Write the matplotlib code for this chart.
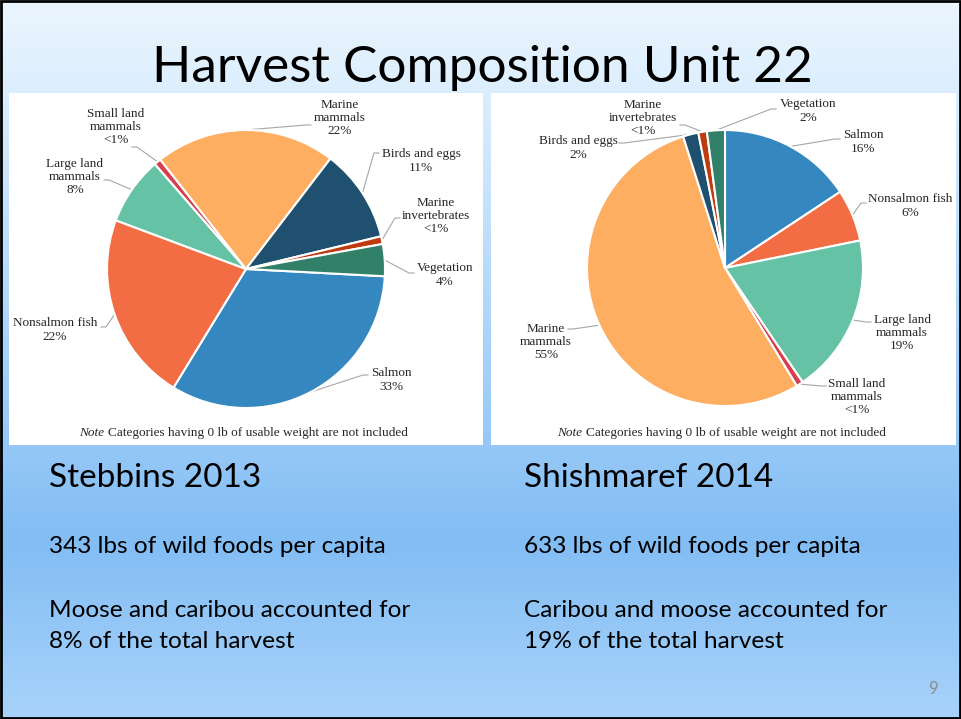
import numpy as np
import matplotlib
matplotlib.use("Agg")
import matplotlib.pyplot as plt
from matplotlib.colors import to_rgb
from matplotlib.patches import Rectangle

W, H = 961, 719

# data
categories = ["Salmon", "Nonsalmon fish", "Large land\nmammals", "Small land\nmammals",
              "Marine\nmammals", "Birds and eggs", "Marine\ninvertebrates", "Vegetation"]
colors = ["#3587BF", "#F26D44", "#66C2A5", "#D53F4E",
          "#FDAE61", "#20506F", "#BE3B10", "#338068"]

stebbins_share = [32.8, 21.9, 7.9, 0.8, 20.9, 10.8, 0.9, 3.7]
stebbins_pct = ["33%", "22%", "8%", "<1%", "22%", "11%", "<1%", "4%"]

shishmaref_share = [15.7, 6.1, 18.7, 0.8, 53.8, 1.8, 1.0, 2.1]
shishmaref_pct = ["16%", "6%", "19%", "<1%", "55%", "2%", "<1%", "2%"]

title = "Harvest Composition Unit 22"
note_rest = "Categories having 0 lb of usable weight are not included"

left_text = ["Stebbins 2013", "343 lbs of wild foods per capita",
             "Moose and caribou accounted for", "8% of the total harvest"]
right_text = ["Shishmaref 2014", "633 lbs of wild foods per capita",
              "Caribou and moose accounted for", "19% of the total harvest"]

# layout (pixels from top-left): label centre, leader attach point
left_layout = dict(center=(246, 269), r=139, start=-3,
    labels=[(391, 380), (55, 330), (75, 177), (116, 127),
            (340, 118), (421, 161), (436, 216), (445, 275)],
    attach=[(368, 375), (101, 327), (104, 180), (132, 147),
            (311, 125), (379, 153), (400, 218), (414, 273)])
right_layout = dict(center=(725, 268), r=138, start=90,
    labels=[(863, 142), (910, 206), (902, 333), (857, 397),
            (546, 342), (578, 148), (643, 118), (808, 111)],
    attach=[(840, 139), (866, 203), (871, 322), (826, 386),
            (568, 329), (619, 143), (680, 125), (776, 109)])


def py(y):
    return H - y


fig = plt.figure(figsize=(W / 100, H / 100), dpi=100)
ax = fig.add_axes([0, 0, 1, 1])

# slide background gradient
stops_y = [0, 90, 445, 540, 719]
stops_c = ["#EBF5FE", "#DCEEFD", "#95C8F7", "#82BDF4", "#A8D3FA"]
ys = np.arange(H)
grad = np.zeros((H, 1, 3))
for k in range(3):
    grad[:, 0, k] = np.interp(ys, stops_y, [to_rgb(c)[k] for c in stops_c])
ax.imshow(grad, extent=[0, W, 0, H], origin="upper", aspect="auto", zorder=0)

# white chart panels
for x0, x1 in [(9, 483), (491, 956)]:
    ax.add_patch(Rectangle((x0, py(445)), x1 - x0, 445 - 93,
                           facecolor="white", edgecolor="none", zorder=1))

serif = "Liberation Serif"


def draw_pie(values, pcts, lay):
    cx, cy = lay["center"]
    r = lay["r"]
    wedges, _ = ax.pie(values, colors=colors, startangle=lay["start"], counterclock=False,
                       center=(cx, py(cy)), radius=r, frame=True,
                       wedgeprops=dict(edgecolor="white", linewidth=1.5))
    for w in wedges:
        w.set_zorder(3)
    for w, name, pct, (lx, ly), (axx, ayy) in zip(wedges, categories, pcts,
                                                   lay["labels"], lay["attach"]):
        mid = np.deg2rad((w.theta1 + w.theta2) / 2)
        ex = cx + r * np.cos(mid)
        ey = py(cy) + r * np.sin(mid)
        step = -5 if axx > ex else 5
        ax.plot([ex, axx + step, axx], [ey, py(ayy), py(ayy)],
                color="#A6A6A6", lw=0.8, zorder=2)
        ax.text(lx, py(ly), name + "\n" + pct, ha="center", va="center",
                fontsize=9.5, family=serif, color="#262626", zorder=4,
                linespacing=1.15)


draw_pie(stebbins_share, stebbins_pct, left_layout)
draw_pie(shishmaref_share, shishmaref_pct, right_layout)

# notes under the pies
for nx, ny in [(104, 433), (582, 433)]:
    ax.text(nx, py(ny), "Note", ha="right", va="center", fontsize=9.5, family=serif,
            style="italic", color="#262626", zorder=4)
    ax.text(nx + 4, py(ny), note_rest, ha="left", va="center", fontsize=9.5,
            family=serif, color="#262626", zorder=4)

ax.set_xlim(0, W)
ax.set_ylim(0, H)
ax.axis("off")

# title and body text
sans = "Lato"
ax.text(482, py(82), title, ha="center", va="baseline", fontsize=37, family=sans,
        color="black", zorder=5)

baselines = [487, 553, 617, 648]
sizes = [24, 17.6, 17.6, 17.6]
for x0, lines in [(49, left_text), (524, right_text)]:
    for s, b, fs in zip(lines, baselines, sizes):
        ax.text(x0, py(b), s, ha="left", va="baseline", fontsize=fs, family=sans,
                color="black", zorder=5)

ax.text(938, py(694), "9", ha="right", va="baseline", fontsize=12, family=sans,
        color="#8C8C8C", zorder=5)

# slide border
ax.add_patch(Rectangle((1, 1), W - 2, H - 2, facecolor="none", edgecolor="black",
                       lw=2, zorder=6))

fig.savefig("out.png", dpi=100)
